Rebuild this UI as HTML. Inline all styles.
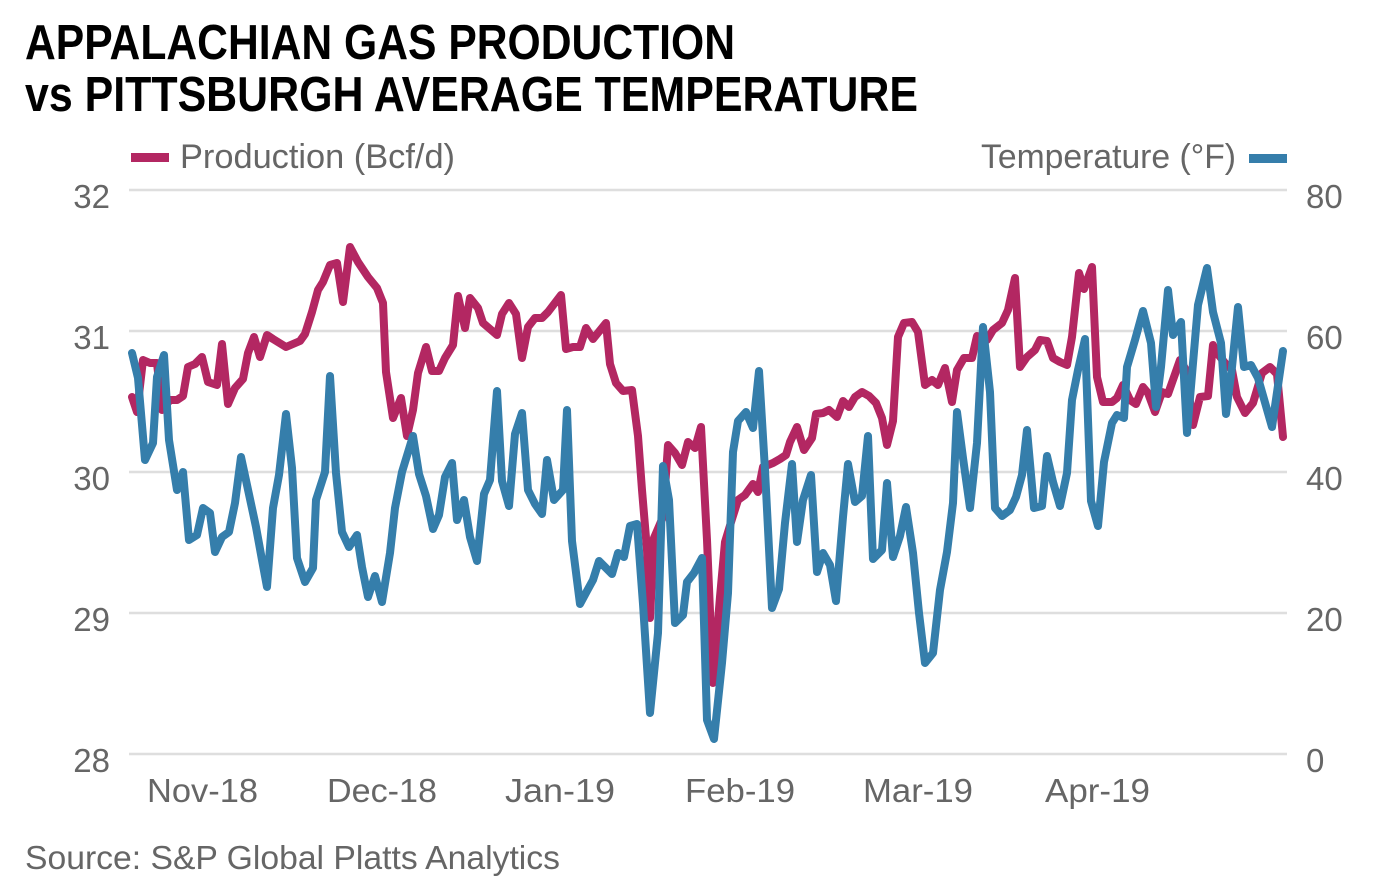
<!DOCTYPE html>
<html><head><meta charset="utf-8"><style>
html,body{margin:0;padding:0;background:#fff;}
svg{display:block;}
text{font-family:"Liberation Sans",sans-serif;}
</style></head><body>
<svg width="1378" height="896" viewBox="0 0 1378 896" xmlns="http://www.w3.org/2000/svg">
<rect width="1378" height="896" fill="#fff"/>
<text x="25" y="59" font-size="49" font-weight="bold" fill="#000" textLength="710" lengthAdjust="spacingAndGlyphs">APPALACHIAN GAS PRODUCTION</text>
<text x="25" y="111" font-size="49" font-weight="bold" fill="#000" textLength="893" lengthAdjust="spacingAndGlyphs">vs PITTSBURGH AVERAGE TEMPERATURE</text>
<rect x="131" y="153" width="38" height="9" fill="#b32762"/>
<text x="180" y="168" font-size="34" fill="#666" textLength="275" lengthAdjust="spacingAndGlyphs">Production (Bcf/d)</text>
<text x="981" y="168" font-size="34" fill="#666" textLength="255" lengthAdjust="spacingAndGlyphs">Temperature (°F)</text>
<rect x="1249" y="154" width="38" height="9" fill="#357eab"/>
<g stroke="#dedede" stroke-width="2.5">
<line x1="129" y1="190" x2="1287" y2="190"/>
<line x1="129" y1="331" x2="1287" y2="331"/>
<line x1="129" y1="472" x2="1287" y2="472"/>
<line x1="129" y1="613" x2="1287" y2="613"/>
<line x1="129" y1="754" x2="1287" y2="754"/>
</g>
<g font-size="33" fill="#666" text-anchor="end">
<text x="110" y="208">32</text>
<text x="110" y="349">31</text>
<text x="110" y="490">30</text>
<text x="110" y="631">29</text>
<text x="110" y="772">28</text>
</g>
<g font-size="33" fill="#666">
<text x="1306" y="208">80</text>
<text x="1306" y="349">60</text>
<text x="1306" y="490">40</text>
<text x="1306" y="631">20</text>
<text x="1306" y="772">0</text>
</g>
<g font-size="33" fill="#666">
<text x="147" y="802" textLength="111" lengthAdjust="spacingAndGlyphs">Nov-18</text>
<text x="327" y="802" textLength="110" lengthAdjust="spacingAndGlyphs">Dec-18</text>
<text x="505" y="802" textLength="110" lengthAdjust="spacingAndGlyphs">Jan-19</text>
<text x="685" y="802" textLength="110" lengthAdjust="spacingAndGlyphs">Feb-19</text>
<text x="863" y="802" textLength="110" lengthAdjust="spacingAndGlyphs">Mar-19</text>
<text x="1045" y="802" textLength="105" lengthAdjust="spacingAndGlyphs">Apr-19</text>
</g>
<text x="25" y="869" font-size="33" fill="#666" textLength="535" lengthAdjust="spacingAndGlyphs">Source: S&amp;P Global Platts Analytics</text>
<polyline fill="none" stroke="#b32762" stroke-width="8" stroke-linejoin="round" stroke-linecap="round" points="132,397 137,412 143,360 150,363 157,363 162,410 170,400 177,400 183,396 188,367 195,364 202,357 208,382 217,385 222,344 228,404 235,388 243,379 248,353 254,337 260,357 267,335 273,339 286,347 300,341 305,334 312,312 318,290 323,282 330,265 337,263 343,302 350,247 358,262 368,277 377,288 383,303 386,372 393,418 401,398 407,436 413,410 418,373 426,347 432,371 439,371 445,358 453,345 458,296 465,328 470,298 478,308 483,323 497,335 502,314 509,303 516,314 522,358 528,327 535,318 542,318 548,312 561,295 566,349 573,347 580,347 586,328 593,339 606,323 610,364 616,383 623,391 632,390 638,436 642,490 647,550 650,618 654,538 663,517 668,445 675,453 682,465 688,442 695,448 701,427 707,540 713,683 720,597 725,542 732,519 738,500 745,495 753,484 758,492 763,467 773,463 780,459 786,455 790,442 797,427 804,450 812,438 816,414 823,413 829,410 837,417 843,401 849,407 855,397 862,392 869,396 876,403 882,418 887,445 893,421 898,337 904,323 912,322 918,332 925,385 932,380 938,385 945,368 952,402 957,370 964,358 972,358 977,336 987,340 993,330 1002,323 1008,310 1015,278 1020,367 1027,357 1035,350 1040,340 1047,341 1053,358 1060,362 1067,365 1072,337 1079,273 1084,289 1092,267 1097,377 1103,402 1112,402 1117,398 1123,385 1130,400 1136,404 1143,387 1148,393 1155,412 1162,392 1168,394 1180,360 1186,370 1193,425 1200,397 1208,396 1213,345 1217,353 1225,363 1232,370 1237,397 1245,413 1253,403 1262,373 1270,367 1277,374 1283,437"/>
<polyline fill="none" stroke="#357eab" stroke-width="8" stroke-linejoin="round" stroke-linecap="round" points="132,353 138,378 145,460 153,443 157,377 164,355 169,440 177,490 183,472 189,540 197,535 203,508 210,513 215,552 222,537 229,532 235,503 241,457 247,485 256,527 262,560 267,587 273,508 279,475 286,414 292,468 297,558 305,582 313,568 316,500 325,472 330,376 336,473 342,532 349,547 357,535 362,567 368,597 375,576 382,602 390,553 395,508 402,472 413,436 419,474 426,496 433,529 439,515 445,477 452,463 457,520 464,500 470,537 477,561 484,494 490,480 497,391 502,481 509,506 515,434 522,413 528,490 535,504 542,514 547,460 554,500 563,490 567,410 572,541 580,604 587,591 593,580 599,561 612,574 618,553 624,557 630,526 637,524 643,604 650,713 658,633 663,466 669,500 675,623 683,615 687,582 694,573 702,558 707,720 714,739 722,663 728,593 733,452 738,421 746,412 753,428 759,371 765,470 772,608 779,589 785,523 792,464 797,542 803,500 811,475 817,572 823,553 830,565 836,601 843,517 848,464 855,502 862,496 868,436 873,559 882,550 887,483 893,557 900,536 906,507 913,553 919,613 925,663 933,653 940,590 947,552 953,503 957,412 963,458 970,508 977,443 983,327 990,392 995,508 1002,516 1010,510 1016,497 1022,475 1027,430 1034,508 1042,506 1047,456 1053,482 1060,506 1067,473 1072,400 1078,370 1085,339 1091,501 1098,526 1104,462 1112,423 1117,415 1124,418 1127,367 1135,340 1143,311 1151,343 1156,407 1161,367 1168,290 1173,335 1181,322 1187,433 1198,305 1207,268 1213,312 1221,343 1226,414 1232,367 1238,307 1244,367 1251,365 1258,378 1272,427 1283,351"/>
</svg>
</body></html>
